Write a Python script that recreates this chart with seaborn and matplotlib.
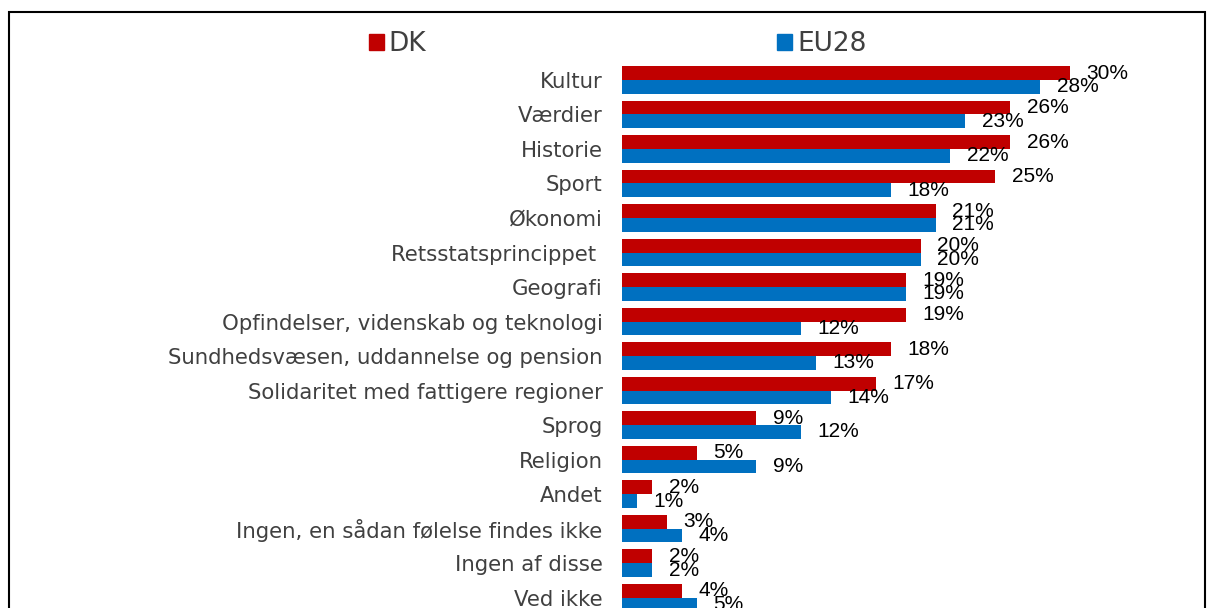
import pandas as pd
import seaborn as sns
import matplotlib.pyplot as plt
from matplotlib.patches import Rectangle, Patch

sns.set_style("white")
plt.rcParams['font.family'] = ['DejaVu Sans']

categories = ["Kultur", "Værdier", "Historie", "Sport", "Økonomi",
              "Retsstatsprincippet ", "Geografi",
              "Opfindelser, videnskab og teknologi",
              "Sundhedsvæsen, uddannelse og pension",
              "Solidaritet med fattigere regioner", "Sprog", "Religion",
              "Andet", "Ingen, en sådan følelse findes ikke",
              "Ingen af disse", "Ved ikke"]
dk = [30, 26, 26, 25, 21, 20, 19, 19, 18, 17, 9, 5, 2, 3, 2, 4]
eu28 = [28, 23, 22, 18, 21, 20, 19, 12, 13, 14, 12, 9, 1, 4, 2, 5]
series = ["DK", "EU28"]
colors = ["#C00000", "#0070C0"]

df = pd.DataFrame({"kategori": categories * 2,
                   "andel": dk + eu28,
                   "serie": [series[0]] * len(dk) + [series[1]] * len(eu28)})

W, H = 1208, 608
fig = plt.figure(figsize=(W / 100, H / 100), dpi=100)
# axes: x from 622 to 1205 px, y from 62 px down to bottom edge
ax = fig.add_axes([622 / W, 0, (1205 - 622) / W, (608 - 62) / H])

sns.barplot(data=df, y="kategori", x="andel", hue="serie", orient="h",
            palette=colors, width=0.8, linewidth=0, saturation=1,
            legend=False, ax=ax)

ax.set_xlim(0, 39.05)
ax.set_ylim(15.30, -0.52)
ax.set_xlabel("")
ax.set_ylabel("")
ax.set_xticks([])
for s in ax.spines.values():
    s.set_visible(False)
ax.tick_params(axis="y", length=0, pad=14, labelsize=15.3, labelcolor="#404040")

for cont in ax.containers:
    ax.bar_label(cont, fmt="%g%%", padding=12, fontsize=15,
                 family="Liberation Sans", color="black")

handles = [Patch(color=c, label=s) for c, s in zip(colors, series)]
fig.legend(handles=handles, loc="upper left", bbox_to_anchor=(369 / W, 1 - 31 / H),
           ncol=2, frameon=False, fontsize=19, handlelength=0.55, handleheight=0.55,
           handletextpad=0.2, columnspacing=13.3, labelcolor="#404040",
           borderaxespad=0, borderpad=0)

fig.patches.append(Rectangle((9 / W, -0.1), (1205 - 9) / W, 1.1 - 12 / H,
                             transform=fig.transFigure, fill=False,
                             edgecolor="black", linewidth=1.5))

plt.savefig("out.png", dpi=100)
